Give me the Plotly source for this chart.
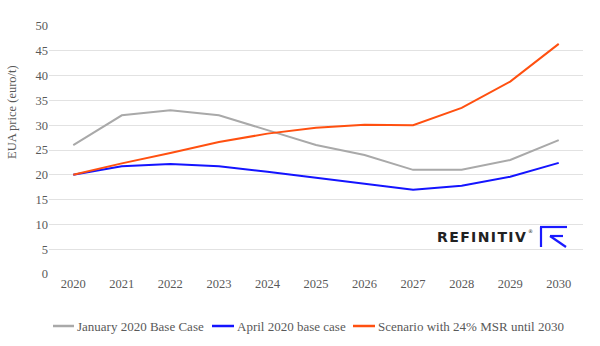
import plotly.graph_objects as go

years = ["2020", "2021", "2022", "2023", "2024", "2025", "2026", "2027", "2028", "2029", "2030"]
jan_base = [26, 32, 33, 32, 29, 26, 24, 21, 21, 23, 27]
apr_base = [20, 21.7, 22.2, 21.7, 20.6, 19.4, 18.2, 17.0, 17.8, 19.6, 22.4]
msr_scen = [20, 22.3, 24.4, 26.6, 28.3, 29.5, 30.1, 30.0, 33.5, 38.8, 46.4]
y_ticks = [0, 5, 10, 15, 20, 25, 30, 35, 40, 45, 50]
series_names = ["January 2020 Base Case", "April 2020 base case", "Scenario with 24% MSR until 2030"]
series_colors = ["#a9a9a9", "#1414ff", "#ff5010"]

font_serif = "Liberation Serif, Times New Roman, serif"
TXT = "#595959"

# plot area in pixels
L, R, T, B = 49, 583, 26, 274
W, H = 600, 346

def px(x):
    return (x - L) / (R - L)

def py(y):
    return (B - y) / (B - T)

fig = go.Figure()
for vals, name, col in zip([jan_base, apr_base, msr_scen], series_names, series_colors):
    fig.add_trace(go.Scatter(x=years, y=vals, mode="lines", name=name,
                             line=dict(color=col, width=2), hoverinfo="x+y+name"))

fig.update_layout(
    width=W, height=H,
    margin=dict(l=L, r=W - R, t=T, b=H - B),
    paper_bgcolor="white", plot_bgcolor="white",
    font=dict(family=font_serif, size=13, color=TXT),
    showlegend=False,
    xaxis=dict(type="category", range=[-0.5, 10.5], showgrid=False, showline=False,
               ticks="", tickfont=dict(family=font_serif, size=12.5, color=TXT), zeroline=False),
    yaxis=dict(range=[0, 50], tickvals=y_ticks, showgrid=True, gridcolor="#e2e2e2",
               gridwidth=1.3, zeroline=False, ticks="", ticklen=0,
               tickfont=dict(family=font_serif, size=12.5, color=TXT)),
)

# y-axis title
fig.add_annotation(x=px(12), y=py(112), xref="paper", yref="paper", text="EUA price (euro/t)",
                   textangle=-90, showarrow=False, xanchor="center", yanchor="middle",
                   font=dict(family=font_serif, size=12.5, color=TXT))

# manual legend
leg_y = 326
leg_items = [(53, 74), (212, 234), (353, 375)]
for (x0, x1), name, col in zip(leg_items, series_names, series_colors):
    fig.add_shape(type="line", xref="paper", yref="paper", x0=px(x0), y0=py(leg_y), x1=px(x1), y1=py(leg_y),
                  line=dict(color=col, width=2.5))
    fig.add_annotation(x=px(x1 + 0.5), y=py(leg_y), xref="paper", yref="paper", text=name,
                       showarrow=False, xanchor="left", yanchor="middle",
                       font=dict(family=font_serif, size=13, color=TXT))

# REFINITIV logo
hair = "\u200a"
brand = hair.join("REFINITIV")
fig.add_annotation(x=px(528), y=py(237), xref="paper", yref="paper",
                   text="<b>" + brand + "</b>", showarrow=False, xanchor="right", yanchor="middle",
                   font=dict(family="DejaVu Sans, Arial, sans-serif", size=14, color="#222222"))
fig.add_annotation(x=px(526), y=py(231), xref="paper", yref="paper",
                   text="®", showarrow=False, xanchor="left", yanchor="middle",
                   font=dict(family="DejaVu Sans, Arial, sans-serif", size=5, color="#222222"))
logo = "#1a1aff"
for (a, b, c, d) in [(541, 227, 541, 247), (540, 227, 567, 227), (550, 236, 563, 236), (550, 236, 566, 247)]:
    fig.add_shape(type="line", xref="paper", yref="paper", x0=px(a), y0=py(b), x1=px(c), y1=py(d),
                  line=dict(color=logo, width=2.2))

fig.write_html("out.html")
